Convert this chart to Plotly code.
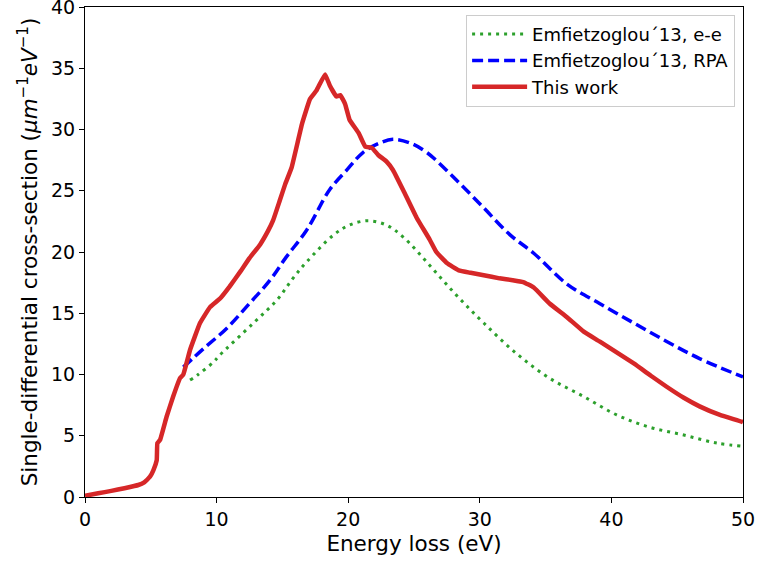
import plotly.graph_objects as go

# This work (red)
red_x = [0, 1, 2, 3, 4.05, 4.5, 4.94, 5.2, 5.45, 5.5, 5.7, 6.2, 6.7, 7.22, 7.47, 7.98, 8.74,
         9.5, 10.26, 11.0, 11.8, 12.5, 13.3, 13.9, 14.3, 14.8, 15.2, 15.7, 16.5, 17.1, 17.6, 18.24,
         18.6, 19.1, 19.4, 19.76, 20.1, 20.8, 21.3, 21.8, 22.3, 22.9, 23.4, 24.2, 25.2, 26.2,
         26.7, 27.5, 28.4, 29.3, 30.3, 31.5, 32.5, 33.3, 34.1, 35.3, 36.6, 37.9, 39.1, 40.4,
         41.7, 43, 44.2, 45.5, 46.7, 48.25, 49.9, 50]
red_y = [0.1, 0.3, 0.5, 0.72, 0.98, 1.2, 1.66, 2.2, 3.0, 4.4, 4.65, 6.55, 8.2, 9.7, 10.0, 12.0, 14.2,
         15.5, 16.2, 17.2, 18.4, 19.5, 20.6, 21.7, 22.6, 24.2, 25.5, 26.9, 30.5, 32.5, 33.2, 34.5,
         33.6, 32.7, 32.8, 32.1, 30.8, 29.7, 28.6, 28.5, 27.9, 27.4, 26.7, 25.0, 22.8, 21.0,
         20.0, 19.1, 18.5, 18.3, 18.1, 17.85, 17.7, 17.55, 17.1, 15.8, 14.7, 13.5, 12.7, 11.8,
         10.9, 9.9, 9.0, 8.1, 7.4, 6.7, 6.15, 6.1]

# Emfietzoglou'13, RPA (blue)
rpa_x = [7.47, 9.0, 10.8, 12.5, 14.06, 15.3, 16.85, 18.6, 19.9, 21.1, 22.4, 23.4, 24.7,
         26.0, 28.2, 30.3, 32.3, 34.1, 36.6, 39.1, 41.7, 44.2, 46.7, 50]
rpa_y = [10.6, 12.1, 13.8, 15.8, 17.7, 19.6, 21.8, 25.1, 26.7, 28.1, 28.9, 29.2, 28.9,
         28.1, 25.9, 23.6, 21.4, 19.9, 17.4, 15.8, 14.2, 12.7, 11.3, 9.8]

# Emfietzoglou'13, e-e (green)
ee_x = [7.98, 8.6, 9.75, 10.26, 12.8, 14.6, 15.8, 16.85, 18.9, 20.1, 21.5, 22.9, 24.2, 26.2, 28.2,
        30.3, 32.8, 35.3, 37.9, 40.4, 42.9, 45.5, 48, 50]
ee_y = [9.55, 10.0, 11.0, 11.6, 14.2, 16.1, 17.85, 19.2, 21.4, 22.2, 22.55, 22.2, 21.2, 18.9, 16.5,
        14.2, 11.7, 9.7, 8.2, 6.7, 5.7, 5.06, 4.4, 4.15]

x_ticks = [0, 10, 20, 30, 40, 50]
y_ticks = [0, 5, 10, 15, 20, 25, 30, 35, 40]

FONT = "DejaVu Sans"

fig = go.Figure()
fig.add_trace(go.Scatter(x=ee_x, y=ee_y, mode="lines", name="Emfietzoglou\u00b413, e-e",
                         line=dict(color="#2ca02c", width=3, dash="3px,5px", shape="spline")))
fig.add_trace(go.Scatter(x=rpa_x, y=rpa_y, mode="lines", name="Emfietzoglou\u00b413, RPA",
                         line=dict(color="#0000ff", width=3.5, dash="11px,5px", shape="spline")))
fig.add_trace(go.Scatter(x=red_x, y=red_y, mode="lines", name="This work",
                         line=dict(color="#d62728", width=4.5, shape="spline", smoothing=0.3)))

axis_common = dict(showline=True, linecolor="black", linewidth=1.2, mirror=True,
                   ticks="outside", ticklen=5, tickwidth=1.2, tickcolor="black",
                   showgrid=False, zeroline=False, ticklabeloverflow="allow",
                   tickfont=dict(family=FONT, size=19, color="black"))

fig.update_xaxes(range=[0, 50], tickvals=x_ticks,
                 title=dict(text="Energy loss (eV)", font=dict(family=FONT, size=21.5, color="black"),
                            standoff=7),
                 **axis_common)
fig.update_yaxes(range=[0, 40], tickvals=y_ticks,
                 title=dict(text="Single-differential cross-section (<i>μm</i><sup>−1</sup><i>eV</i><sup>−1</sup>)",
                            font=dict(family=FONT, size=21.5, color="black"), standoff=7),
                 **axis_common)

fig.update_layout(
    width=758, height=567,
    margin=dict(l=85, r=15, t=7, b=70, autoexpand=False),
    paper_bgcolor="white", plot_bgcolor="white",
    legend=dict(x=0.988, y=0.984, xanchor="right", yanchor="top", itemwidth=55,
                bgcolor="rgba(255,255,255,0.8)", bordercolor="#cccccc", borderwidth=1,
                font=dict(family=FONT, size=18, color="black"), tracegroupgap=0),
    showlegend=True,
)

fig.write_html("out.html")
